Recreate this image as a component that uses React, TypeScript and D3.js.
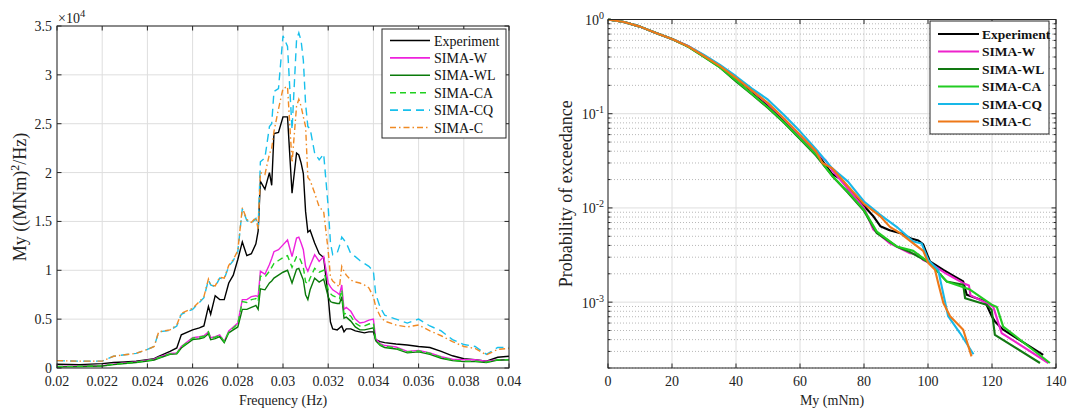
import React from 'react';
import * as d3 from 'd3';

// ---------- Left chart: PSD ----------
const freq = [0.020, 0.021, 0.022, 0.0225, 0.023, 0.0235, 0.024, 0.0243, 0.0245, 0.025, 0.0253, 0.0255, 0.026, 0.0263, 0.0265, 0.0267, 0.0268, 0.027, 0.0272, 0.0274, 0.0276, 0.0278, 0.028, 0.0282, 0.0284, 0.0286, 0.0288, 0.0289, 0.029, 0.0292, 0.0294, 0.0295, 0.0296, 0.0298, 0.030, 0.0302, 0.0304, 0.0306, 0.0307, 0.0308, 0.0309, 0.031, 0.0311, 0.0312, 0.0314, 0.0316, 0.0318, 0.032, 0.0321, 0.0322, 0.0324, 0.0325, 0.0326, 0.0327, 0.0328, 0.033, 0.0332, 0.0334, 0.0336, 0.0338, 0.034, 0.0341, 0.0343, 0.0345, 0.035, 0.0355, 0.036, 0.0365, 0.037, 0.0375, 0.038, 0.0385, 0.039, 0.0395, 0.040];

const psdExperiment = [380, 350, 450, 560, 620, 700, 860, 950, 1200, 1700, 2050, 3400, 3900, 4100, 4300, 6300, 5500, 7400, 7000, 7000, 8700, 9500, 11100, 12900, 11500, 11700, 12700, 14000, 19100, 18300, 20000, 18700, 24000, 24100, 25700, 25700, 17900, 22000, 21800, 21000, 19900, 16000, 13900, 14100, 12800, 11700, 11300, 7300, 4700, 4000, 3900, 4100, 4300, 3700, 4000, 4000, 3800, 3700, 3600, 3700, 3700, 2900, 2700, 2600, 2450, 2350, 2200, 2100, 1700, 1250, 950, 850, 700, 1100, 1200];
const psdSimaW = [170, 200, 240, 400, 510, 620, 790, 900, 1100, 1500, 1550, 2200, 3100, 3200, 3300, 3700, 3100, 3200, 3400, 2700, 3800, 4200, 4600, 7000, 7000, 7300, 7400, 7300, 9900, 9600, 10600, 11200, 11900, 12100, 12600, 13100, 11400, 13300, 13400, 12800, 12100, 10400, 9900, 10500, 11600, 10900, 11400, 8700, 8300, 8000, 7700, 7500, 8500, 6000, 6200, 5800, 5000, 4600, 4700, 4900, 5000, 3000, 2500, 2300, 2150, 1700, 1800, 1550, 1150, 900, 850, 850, 700, 850, 850];
const psdSimaWL = [120, 150, 200, 350, 460, 560, 720, 820, 1000, 1400, 1450, 2050, 2900, 3000, 3100, 3500, 2900, 3000, 3200, 2600, 3600, 3900, 4200, 6000, 6000, 6200, 6400, 6000, 8100, 8000, 8700, 8900, 9200, 9500, 9800, 10000, 8700, 10100, 10200, 9600, 9000, 7500, 7000, 8000, 9200, 8800, 9100, 7300, 6800, 6700, 6600, 6600, 7300, 5100, 5200, 4800, 4200, 3900, 3900, 4000, 4100, 2800, 2300, 2100, 1950, 1550, 1650, 1400, 1000, 750, 650, 650, 550, 800, 850];
const psdSimaCA = [150, 180, 230, 380, 490, 590, 760, 870, 1050, 1450, 1500, 2150, 3050, 3150, 3250, 3700, 3050, 3150, 3350, 2700, 3700, 4100, 4500, 6800, 6700, 7000, 7100, 6800, 9400, 9300, 9900, 10300, 10700, 11000, 11300, 11500, 10300, 11400, 11400, 10900, 10300, 8800, 8600, 9200, 10200, 9800, 10000, 8000, 7600, 7400, 7200, 7100, 8000, 5500, 5600, 5300, 4600, 4300, 4300, 4500, 4600, 2900, 2400, 2200, 2050, 1650, 1750, 1500, 1100, 800, 700, 700, 600, 850, 850];
const psdSimaCQ = [750, 700, 700, 1200, 1350, 1500, 1900, 2200, 3700, 3850, 4300, 5500, 6000, 6700, 7200, 9000, 8500, 8300, 9200, 9100, 10400, 11000, 11900, 16300, 15100, 14800, 15300, 14300, 21100, 21500, 24700, 25000, 28300, 28600, 34000, 32900, 24400, 33600, 34300, 33500, 31500, 27000, 24700, 24500, 22000, 21300, 21900, 16500, 12800, 11600, 11800, 12500, 13400, 13100, 12800, 11700, 11400, 11000, 10700, 10400, 9900, 7600, 6200, 5400, 5000, 4600, 5000, 4300, 3800, 2900, 2400, 2200, 1400, 2100, 2100];
const psdSimaC = [750, 700, 700, 1200, 1350, 1500, 1900, 2200, 3700, 3900, 4400, 5600, 6100, 6800, 7300, 9100, 8500, 8400, 9300, 9200, 10500, 11100, 12000, 16400, 15200, 14900, 15400, 14200, 20000, 19800, 21900, 22500, 24200, 26500, 28600, 28800, 21000, 26800, 27500, 26800, 25700, 24700, 19500, 19200, 17900, 16500, 16000, 12000, 9300, 8900, 8500, 8300, 10400, 9900, 9500, 9000, 8800, 8700, 8500, 8200, 7300, 6300, 5300, 4800, 4400, 4200, 4400, 3800, 3300, 2700, 2200, 2000, 1350, 1900, 2000];

const freqTickLabels = ['0.02', '0.022', '0.024', '0.026', '0.028', '0.03', '0.032', '0.034', '0.036', '0.038', '0.04'];
const psdTickLabels = ['0', '0.5', '1', '1.5', '2', '2.5', '3', '3.5'];

// ---------- Right chart: exceedance ----------
const excExperimentX = [0, 5, 10, 15, 20, 25, 30, 35, 40, 45, 50, 55, 60, 65, 70, 73, 75, 80, 83, 85.1, 88, 91.4, 95, 97, 98.5, 100.6, 104.8, 108, 111, 112.1, 117.8, 119.9, 121, 123.5, 136];
const excExperimentP = [1, 0.94, 0.84, 0.72, 0.62, 0.52, 0.41, 0.32, 0.24, 0.172, 0.122, 0.083, 0.055, 0.039, 0.023, 0.020, 0.016, 0.0105, 0.0081, 0.0064, 0.0058, 0.0054, 0.0047, 0.0045, 0.0041, 0.0027, 0.0022, 0.0019, 0.00166, 0.0012, 0.00102, 0.00071, 0.00062, 0.00051, 0.000276];
const excSimaWX = [0, 5, 10, 15, 20, 25, 30, 35, 40, 45, 50, 55, 60, 65, 68, 70, 75, 80, 82.9, 88.1, 94.4, 97, 98.5, 100.6, 105.8, 111, 112.8, 113.3, 118.3, 120.4, 123, 137.6];
const excSimaWP = [1, 0.94, 0.84, 0.72, 0.62, 0.525, 0.415, 0.325, 0.245, 0.176, 0.127, 0.088, 0.058, 0.039, 0.032, 0.0253, 0.016, 0.010, 0.0059, 0.0042, 0.0033, 0.0032, 0.0028, 0.0026, 0.0020, 0.00159, 0.0015, 0.00118, 0.00098, 0.00089, 0.00047, 0.000226];
const excSimaWLX = [0, 5, 10, 15, 20, 25, 30, 35, 40, 45, 50, 55, 60, 65, 70, 75, 80, 84, 90.2, 94.4, 100.6, 105.8, 111, 111.6, 118.3, 119.9, 120.9, 135];
const excSimaWLP = [1, 0.94, 0.84, 0.72, 0.62, 0.515, 0.40, 0.31, 0.22, 0.16, 0.115, 0.080, 0.054, 0.036, 0.022, 0.0145, 0.0093, 0.0054, 0.0039, 0.0034, 0.0026, 0.00166, 0.00153, 0.0011, 0.00094, 0.00083, 0.00045, 0.000226];
const excSimaCAX = [0, 5, 10, 15, 20, 25, 30, 35, 40, 45, 50, 55, 60, 65, 70, 75, 80, 84, 90.2, 95.4, 97.5, 100.6, 105.8, 113.1, 119.9, 121.5, 123.5, 138.1];
const excSimaCAP = [1, 0.94, 0.84, 0.72, 0.62, 0.515, 0.40, 0.31, 0.225, 0.162, 0.117, 0.081, 0.055, 0.037, 0.022, 0.0148, 0.0095, 0.0056, 0.0039, 0.0035, 0.0031, 0.0026, 0.00166, 0.00136, 0.00094, 0.00089, 0.00055, 0.000226];
const excSimaCQX = [0, 5, 10, 15, 20, 25, 30, 35, 40, 45, 50, 55, 60, 65, 70, 75, 80, 85, 87.1, 90.2, 95.4, 98, 100.1, 103.2, 104.3, 106.3, 110, 114.2];
const excSimaCQP = [1, 0.94, 0.84, 0.72, 0.62, 0.525, 0.42, 0.33, 0.25, 0.185, 0.141, 0.097, 0.065, 0.042, 0.0265, 0.019, 0.0117, 0.0085, 0.0075, 0.0063, 0.0044, 0.0042, 0.0028, 0.0022, 0.00146, 0.00071, 0.00047, 0.00028];
const excSimaCX = [0, 5, 10, 15, 20, 25, 30, 35, 40, 45, 50, 55, 60, 65, 67, 70, 75, 80, 85, 88.1, 91.3, 95.4, 98.5, 100.1, 102.2, 103.2, 104.8, 106.9, 111, 113.6];
const excSimaCP = [1, 0.94, 0.84, 0.72, 0.62, 0.52, 0.41, 0.32, 0.24, 0.176, 0.13, 0.089, 0.06, 0.04, 0.030, 0.0265, 0.017, 0.011, 0.0082, 0.0063, 0.0054, 0.0042, 0.0035, 0.0026, 0.0022, 0.00159, 0.00098, 0.00071, 0.00051, 0.000266];

const myTickLabels = ['0', '20', '40', '60', '80', '100', '120', '140'];
const probDecadeExponents = [0, -1, -2, -3];

const seriesNames = ['Experiment', 'SIMA-W', 'SIMA-WL', 'SIMA-CA', 'SIMA-CQ', 'SIMA-C'];
const leftColors = ['#000000', '#ee22dd', '#0a7a0a', '#1fd01f', '#18c0ec', '#f08a24'];
const leftDashes = ['', '', '', '6,4', '8,5', '6,3,1.5,3'];
const rightColors = ['#000000', '#ee22cc', '#127812', '#22cc22', '#18b8e8', '#ee7818'];

const FONT = '"Liberation Serif", "Times New Roman", serif';
const AXIS = '#262626';
const GRID = '#dedede';

function LeftChart() {
  const x0 = 57, x1 = 509, y0 = 26, y1 = 368;
  const xs = d3.scaleLinear().domain([0.02, 0.04]).range([x0, x1]);
  const ys = d3.scaleLinear().domain([0, 35000]).range([y1, y0]);
  const series = [psdExperiment, psdSimaW, psdSimaWL, psdSimaCA, psdSimaCQ, psdSimaC];
  const line = d3.line<number>().x((_, i) => xs(freq[i])).y((d) => ys(d));
  const xt = freqTickLabels.map((l) => ({ l, v: +l }));
  const yt = psdTickLabels.map((l) => ({ l, v: +l * 1e4 }));
  const tl = 4.5;
  return (
    <g fontFamily={FONT} fill="none">
      <rect x={x0} y={y0} width={x1 - x0} height={y1 - y0} fill="#fff" />
      {xt.map((t) => (
        <line key={'gx' + t.l} x1={xs(t.v)} x2={xs(t.v)} y1={y0} y2={y1} stroke={GRID} strokeWidth={1} />
      ))}
      {yt.map((t) => (
        <line key={'gy' + t.l} x1={x0} x2={x1} y1={ys(t.v)} y2={ys(t.v)} stroke={GRID} strokeWidth={1} />
      ))}
      {series.map((s, i) => (
        <path key={'s' + i} d={line(s) || ''} stroke={leftColors[i]} strokeWidth={1.4} strokeDasharray={leftDashes[i]} fill="none" />
      ))}
      <rect x={x0} y={y0} width={x1 - x0} height={y1 - y0} stroke={AXIS} strokeWidth={1} fill="none" />
      {xt.map((t) => (
        <g key={'tx' + t.l}>
          <line x1={xs(t.v)} x2={xs(t.v)} y1={y1} y2={y1 - tl} stroke={AXIS} />
          <line x1={xs(t.v)} x2={xs(t.v)} y1={y0} y2={y0 + tl} stroke={AXIS} />
          <text x={xs(t.v)} y={386} textAnchor="middle" fontSize={14} fill="#222">{t.l}</text>
        </g>
      ))}
      {yt.map((t) => (
        <g key={'ty' + t.l}>
          <line x1={x0} x2={x0 + tl} y1={ys(t.v)} y2={ys(t.v)} stroke={AXIS} />
          <line x1={x1} x2={x1 - tl} y1={ys(t.v)} y2={ys(t.v)} stroke={AXIS} />
          <text x={x0 - 5} y={ys(t.v) + 5} textAnchor="end" fontSize={14} fill="#222">{t.l}</text>
        </g>
      ))}
      <text x={58} y={23} fontSize={14} fill="#222">×10<tspan dy={-6} fontSize={10.5}>4</tspan></text>
      <text x={(x0 + x1) / 2} y={405} textAnchor="middle" fontSize={14} fill="#222">Frequency (Hz)</text>
      <text transform={`translate(26,${(y0 + y1) / 2}) rotate(-90)`} textAnchor="middle" fontSize={18} fill="#222">
        My ((MNm)<tspan dy={-7} fontSize={12}>2</tspan><tspan dy={7}>/Hz)</tspan>
      </text>
      <rect x={382} y={29} width={124} height={109} fill="#fff" stroke={AXIS} strokeWidth={1} />
      {seriesNames.map((n, i) => {
        const yy = 40.5 + i * 17.4;
        return (
          <g key={'lg' + n}>
            <line x1={390} x2={430} y1={yy} y2={yy} stroke={leftColors[i]} strokeWidth={1.6} strokeDasharray={leftDashes[i]} />
            <text x={434} y={yy + 5} fontSize={14} fill="#111">{n}</text>
          </g>
        );
      })}
    </g>
  );
}

function RightChart() {
  const x0 = 608, x1 = 1056, y0 = 19.5, y1 = 368;
  const xs = d3.scaleLinear().domain([0, 140]).range([x0, x1]);
  const ys = d3.scaleLog().domain([2e-4, 1]).range([y1, y0]);
  const seriesX = [excExperimentX, excSimaWX, excSimaWLX, excSimaCAX, excSimaCQX, excSimaCX];
  const seriesP = [excExperimentP, excSimaWP, excSimaWLP, excSimaCAP, excSimaCQP, excSimaCP];
  const xt = myTickLabels.map((l) => ({ l, v: +l }));
  const minors: number[] = [];
  for (let e = -4; e < 0; e++) {
    for (let k = 2; k <= 9; k++) {
      const v = k * Math.pow(10, e);
      if (v >= 2e-4 && v < 1) minors.push(v);
    }
  }
  const tl = 4.5;
  return (
    <g fontFamily={FONT} fill="none">
      <rect x={x0} y={y0} width={x1 - x0} height={y1 - y0} fill="#fff" />
      {xt.map((t) => (
        <line key={'gx' + t.l} x1={xs(t.v)} x2={xs(t.v)} y1={y0} y2={y1} stroke={GRID} strokeWidth={1} />
      ))}
      {minors.map((v) => (
        <line key={'gm' + v} x1={x0} x2={x1} y1={ys(v)} y2={ys(v)} stroke="#b8b8b8" strokeWidth={1} strokeDasharray="1,2" />
      ))}
      {probDecadeExponents.map((e) => (
        <line key={'gd' + e} x1={x0} x2={x1} y1={ys(Math.pow(10, e))} y2={ys(Math.pow(10, e))} stroke={GRID} strokeWidth={1} />
      ))}
      {seriesX.map((sx, i) => {
        const pts = sx.map((x, j) => [x, seriesP[i][j]] as [number, number]);
        const line = d3.line<[number, number]>().x((d) => xs(d[0])).y((d) => ys(d[1]));
        return <path key={'s' + i} d={line(pts) || ''} stroke={rightColors[i]} strokeWidth={2.1} fill="none" strokeLinejoin="round" />;
      })}
      <rect x={x0} y={y0} width={x1 - x0} height={y1 - y0} stroke={AXIS} strokeWidth={1} fill="none" />
      {xt.map((t) => (
        <g key={'tx' + t.l}>
          <line x1={xs(t.v)} x2={xs(t.v)} y1={y1} y2={y1 - tl} stroke={AXIS} />
          <line x1={xs(t.v)} x2={xs(t.v)} y1={y0} y2={y0 + tl} stroke={AXIS} />
          <text x={xs(t.v)} y={386} textAnchor="middle" fontSize={14} fill="#222">{t.l}</text>
        </g>
      ))}
      {minors.map((v) => (
        <g key={'tm' + v}>
          <line x1={x0} x2={x0 + 2.5} y1={ys(v)} y2={ys(v)} stroke={AXIS} />
          <line x1={x1} x2={x1 - 2.5} y1={ys(v)} y2={ys(v)} stroke={AXIS} />
        </g>
      ))}
      {probDecadeExponents.map((e) => {
        const yy = ys(Math.pow(10, e));
        return (
          <g key={'ty' + e}>
            <line x1={x0} x2={x0 + tl} y1={yy} y2={yy} stroke={AXIS} />
            <line x1={x1} x2={x1 - tl} y1={yy} y2={yy} stroke={AXIS} />
            <text x={604} y={yy + 5.5} textAnchor="end" fontSize={14} fill="#222">
              10<tspan dy={-6} fontSize={10}>{String(e)}</tspan>
            </text>
          </g>
        );
      })}
      <text x={(x0 + x1) / 2} y={405} textAnchor="middle" fontSize={14} fill="#222">My (mNm)</text>
      <text transform={`translate(572,${(y0 + y1) / 2}) rotate(-90)`} textAnchor="middle" fontSize={18} fill="#222">Probability of exceedance</text>
      <rect x={930} y={21} width={119} height={113} fill="#fff" stroke={AXIS} strokeWidth={1} />
      {seriesNames.map((n, i) => {
        const yy = 34 + i * 17.5;
        return (
          <g key={'lg' + n}>
            <line x1={938} x2={979} y1={yy} y2={yy} stroke={rightColors[i]} strokeWidth={2.2} />
            <text x={982} y={yy + 4.8} fontSize={13.5} fontWeight="bold" fill="#111">{n}</text>
          </g>
        );
      })}
    </g>
  );
}

export default function App() {
  return (
    <svg width={1073} height={412} style={{ position: 'absolute', left: 0, top: 0, background: '#fff' }}>
      <rect x={0} y={0} width={1073} height={412} fill="#fff" />
      <LeftChart />
      <RightChart />
    </svg>
  );
}
